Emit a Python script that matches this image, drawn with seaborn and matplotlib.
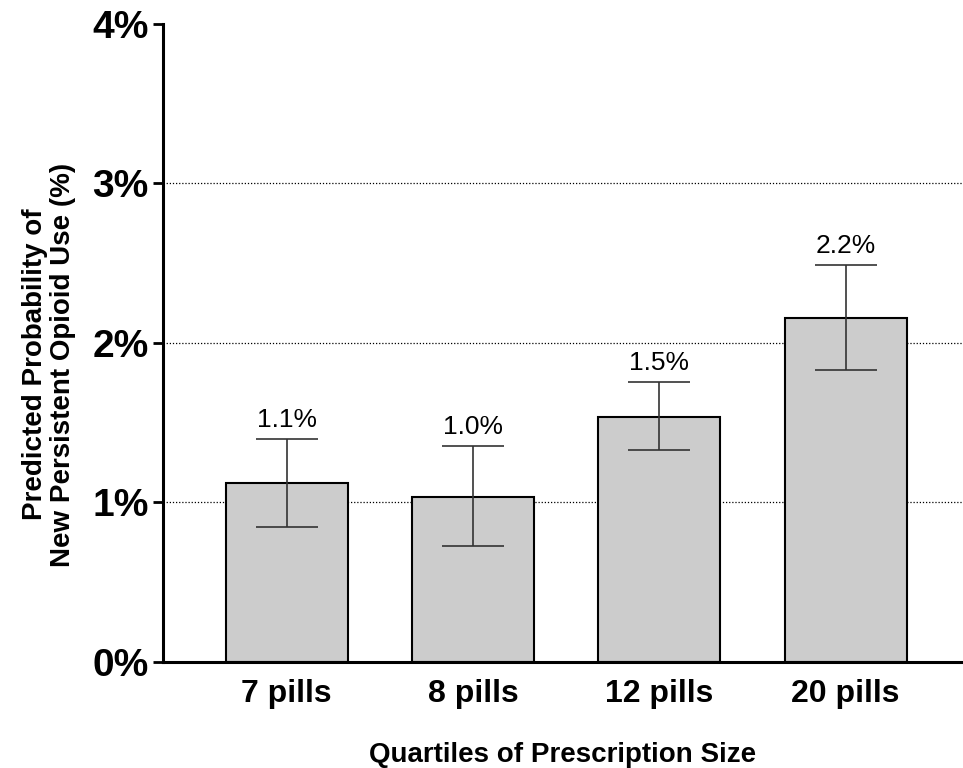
import matplotlib
matplotlib.use("Agg")
import matplotlib.pyplot as plt
import seaborn as sns
import pandas as pd

categories = ["7 pills", "8 pills", "12 pills", "20 pills"]
values = [1.12, 1.036, 1.537, 2.155]
ci_low = [0.845, 0.727, 1.329, 1.831]
ci_high = [1.396, 1.354, 1.754, 2.489]
value_labels = ["1.1%", "1.0%", "1.5%", "2.2%"]
yticks = [0, 1, 2, 3, 4]
ytick_labels = ["0%", "1%", "2%", "3%", "4%"]
grid_levels = [1, 2, 3]

sns.set_theme(style="white")
plt.rcParams["font.family"] = ["Liberation Sans", "DejaVu Sans"]
plt.rcParams["text.color"] = "black"
plt.rcParams["axes.labelcolor"] = "black"
plt.rcParams["xtick.color"] = "black"
plt.rcParams["ytick.color"] = "black"

df = pd.DataFrame({"cat": categories, "val": values})

fig = plt.figure(figsize=(9.63, 7.68), dpi=100)
ax = fig.add_axes([0.169, 0.138, 0.831, 0.831])

for g in grid_levels:
    ax.axhline(g, color="black", linestyle=(0, (1, 1.5)), linewidth=0.9, zorder=0)

sns.barplot(data=df, x="cat", y="val", color="#cccccc", width=0.655,
            edgecolor="black", linewidth=1.5, saturation=1, ax=ax, zorder=2)

xs = list(range(len(categories)))
yerr = [[v - lo for v, lo in zip(values, ci_low)], [hi - v for v, hi in zip(values, ci_high)]]
ax.errorbar(xs, values, yerr=yerr, fmt="none", ecolor="#333333", elinewidth=1.2,
            capsize=22.5, capthick=1.2, zorder=3)

for x, hi, lab in zip(xs, ci_high, value_labels):
    ax.annotate(lab, (x, hi), xytext=(0, 5), textcoords="offset points",
                ha="center", va="bottom", fontsize=19, color="black")

ax.set_xlim(-0.665, 3.63)
ax.set_ylim(0, 4)
ax.set_yticks(yticks)
ax.set_yticklabels(ytick_labels, fontsize=28, fontweight="bold")
ax.tick_params(axis="y", direction="out", length=7, width=2, left=True, pad=3)
ax.tick_params(axis="x", length=0, pad=12, labelsize=23)
for t in ax.get_xticklabels():
    t.set_fontweight("bold")

ax.set_xlabel("Quartiles of Prescription Size", fontsize=20, fontweight="bold", labelpad=24)
ax.set_ylabel("Predicted Probability of\nNew Persistent Opioid Use (%)", fontsize=20,
              fontweight="bold", linespacing=1.1)
ax.yaxis.set_label_coords(-0.109, 0.466)

for s in ["top", "right"]:
    ax.spines[s].set_visible(False)
for s in ["left", "bottom"]:
    ax.spines[s].set_linewidth(2.2)
    ax.spines[s].set_color("black")

fig.savefig("out.png", dpi=100)
